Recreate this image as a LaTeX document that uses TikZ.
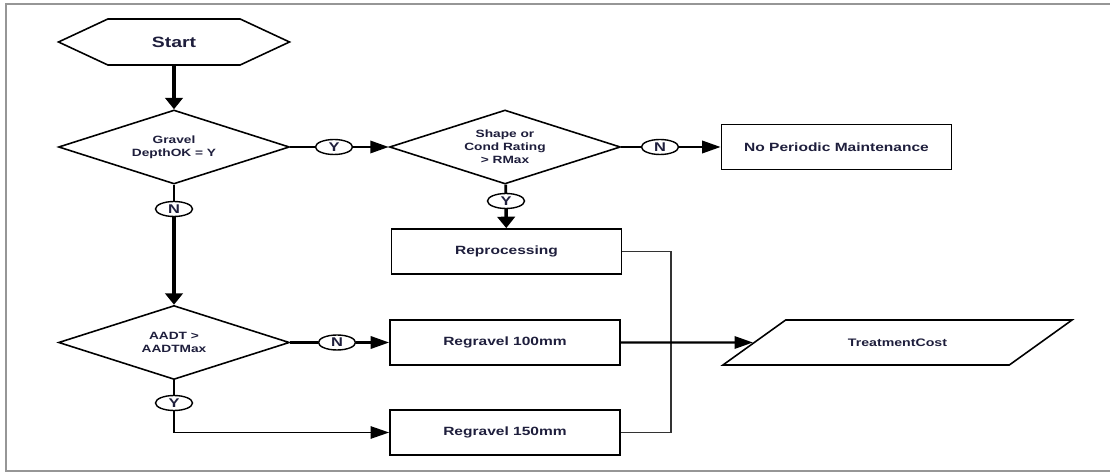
\documentclass[tikz,border=0pt]{standalone}
\usepackage{fontspec}
\setmainfont[FakeStretch=1.3]{Liberation Sans}
\definecolor{inknavy}{RGB}{30, 30, 60}
\definecolor{framegray}{RGB}{150, 150, 150}
\usetikzlibrary{shapes.geometric, shapes.symbols, arrows.meta, positioning}

\begin{document}
\begin{tikzpicture}[x=0.02cm, y=-0.02cm,
    txt/.style={text=inknavy, font=\bfseries\fontsize{6.8}{8}\selectfont},
    terminal/.style={txt, draw, line width=0.9pt, signal, signal from=nowhere, signal to=east and west,
                     signal pointer angle=50, minimum width=4.62cm, minimum height=0.92cm,
                     inner sep=0pt, font=\bfseries\fontsize{8.5}{10}\selectfont},
    decision/.style={txt, draw, diamond, aspect=3.12, line width=0.9pt, minimum width=4.62cm,
                     minimum height=1.48cm, inner sep=0pt, align=center,
                     font=\bfseries\fontsize{6}{7.4}\selectfont},
    process/.style={txt, draw, line width=1pt, minimum width=4.6cm, minimum height=0.9cm},
    answer/.style={txt, draw, ellipse, line width=0.8pt, minimum width=0.74cm,
                   minimum height=0.3cm, inner sep=0pt, font=\bfseries\fontsize{7.2}{7.5}\selectfont},
    iobox/.style={txt, draw, line width=0.9pt, trapezium, trapezium left angle=32,
                  trapezium right angle=148, trapezium stretches=true,
                  minimum width=7.02cm, minimum height=0.9cm, font=\bfseries\fontsize{6.2}{7}\selectfont},
    link/.style={line width=1.6pt},
    vflow/.style={line width=2pt, -{Triangle[length=6.5pt, width=10pt]}},
    hflow/.style={line width=1.4pt, -{Triangle[length=10.5pt, width=7pt]}},
    merge/.style={line width=0.8pt, draw=black!80}]
    \useasboundingbox (0,0) rectangle (1110,472);
    \draw[framegray, line width=0.8pt] (1110,4) -- (6,4) -- (6,471) -- (1110,471);

    \node[terminal] (start) at (174,42) {Start};
    \node[decision] (grav) at (174,147) {Gravel\\DepthOK = Y};
    \node[decision] (shp) at (505,147) {Shape or\\Cond Rating\\> RMax};
    \node[process] (npm) at (836.5,147) {No Periodic Maintenance};
    \node[process] (rep) at (506.5,251.5) {Reprocessing};
    \node[decision] (aadt) at (174,342.5) {AADT >\\AADTMax};
    \node[process] (r100) at (505,342.5) {Regravel 100mm};
    \node[process] (r150) at (505,432.5) {Regravel 150mm};
    \node[iobox] (tc) at (897.5,342.5) {TreatmentCost};
    \coordinate (join) at (671,342.5);

    \node[answer] (ansY1) at (334,147) {Y};
    \node[answer] (ansN1) at (174,209) {N};
    \node[answer] (ansN2) at (660,147) {N};
    \node[answer] (ansY2) at (506,201) {Y};
    \node[answer] (ansN3) at (337,342.5) {N};
    \node[answer] (ansY3) at (174,403) {Y};

    \draw[vflow] (start) -- (grav);
    \draw[link] (grav) -- (ansY1);
    \draw[hflow] (ansY1) -- (shp);
    \draw[link] (grav) -- (ansN1);
    \draw[vflow] (ansN1) -- (aadt);
    \draw[link] (shp) -- (ansN2);
    \draw[hflow] (ansN2) -- (npm);
    \draw[link] (shp) -- (ansY2);
    \draw[vflow] (ansY2) -- (rep);
    \draw[link] (aadt) -- (ansN3);
    \draw[hflow] (ansN3) -- (r100);
    \draw[link] (aadt) -- (ansY3);
    \draw[hflow, line width=0.9pt] (ansY3) |- (r150);
    \draw[merge] (rep) -| (join) |- (r150);
    \draw[hflow] (r100) -- (tc);
\end{tikzpicture}
\end{document}
